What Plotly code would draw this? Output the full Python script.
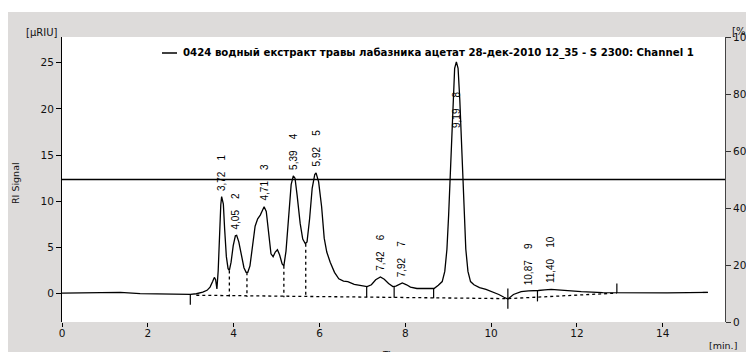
import plotly.graph_objects as go

# ---------------- data ----------------
time_min = [0.0, 0.5, 1.0, 1.36, 1.82, 2.42, 2.99, 3.13, 3.28, 3.38, 3.45, 3.51, 3.55, 3.58, 3.61,
            3.64, 3.67, 3.70, 3.72, 3.76, 3.79, 3.83, 3.87, 3.90, 3.94, 3.99, 4.04, 4.07, 4.12,
            4.18, 4.24, 4.29, 4.33, 4.38, 4.44, 4.50, 4.56, 4.62, 4.67, 4.71, 4.76, 4.82, 4.87,
            4.92, 4.97, 5.02, 5.07, 5.13, 5.17, 5.22, 5.28, 5.34, 5.39, 5.43, 5.48, 5.55, 5.61,
            5.67, 5.71, 5.77, 5.83, 5.89, 5.92, 5.98, 6.05, 6.11, 6.17, 6.25, 6.35, 6.45, 6.56,
            6.66, 6.81, 6.96, 7.11, 7.21, 7.31, 7.42, 7.51, 7.61, 7.71, 7.78, 7.87, 7.93, 8.03,
            8.12, 8.27, 8.47, 8.67, 8.77, 8.86, 8.92, 8.97, 9.01, 9.04, 9.07, 9.11, 9.15, 9.19,
            9.23, 9.27, 9.31, 9.34, 9.37, 9.41, 9.46, 9.52, 9.60, 9.73, 9.88, 10.04, 10.18, 10.30,
            10.39, 10.52, 10.70, 10.87, 11.0, 11.10, 11.25, 11.40, 11.55, 11.85, 12.1, 12.6,
            13.1, 13.6, 14.1, 14.6, 15.05]
signal_uriu = [0.05, 0.05, 0.08, 0.12, 0.0, -0.05, -0.08, -0.02, 0.15, 0.35, 0.7, 1.3, 1.75, 1.5, 0.5,
               2.5, 6.5, 9.6, 10.5, 9.7, 7.0, 4.0, 2.7, 2.5, 3.4, 5.2, 6.25, 6.3, 5.6,
               4.0, 2.8, 2.3, 2.3, 3.0, 5.2, 7.3, 8.1, 8.5, 9.0, 9.4, 8.9, 6.6, 4.3,
               4.0, 4.5, 4.75, 4.2, 3.2, 3.0, 4.6, 8.6, 11.8, 12.75, 12.5, 10.6, 7.6, 5.9,
               5.4, 5.6, 8.1, 11.4, 12.9, 13.07, 12.1, 9.4, 6.0, 4.5, 3.4, 2.3, 1.6, 1.35,
               1.3, 1.0, 0.85, 0.75, 0.95, 1.5, 1.8, 1.55, 1.1, 0.75, 0.8, 1.05, 1.15, 0.95,
               0.7, 0.55, 0.55, 0.55, 0.9, 1.3, 2.4, 4.8, 8.5, 12.2, 16.0, 21.0, 24.4, 25.1,
               24.4, 21.0, 16.0, 12.2, 8.5, 4.8, 2.4, 1.3, 0.95, 0.65, 0.45, 0.2, -0.1, -0.4,
               -0.6, -0.1, 0.2, 0.3, 0.3, 0.33, 0.4, 0.45, 0.4, 0.28, 0.2, 0.1,
               0.08, 0.05, 0.08, 0.1, 0.12]

# integration baseline (dotted)
baseline_t = [3.13, 10.39, 10.39, 12.93]
baseline_y = [-0.18, -0.55, -0.55, 0.05]

# valley drop lines (dotted): time, top, bottom
drop_t = [3.90, 4.31, 5.17, 5.68]
drop_top = [2.5, 2.3, 3.0, 5.4]
drop_bot = [-0.33, -0.36, -0.41, -0.44]

# integration limit markers (solid): time, top, bottom
mark_t = [2.99, 7.10, 7.74, 8.66, 10.39, 11.08, 12.93, 15.05]
mark_top = [-0.1, 0.75, 0.8, 0.6, 0.55, 0.35, 1.1, 0.12]
mark_bot = [-1.2, -0.4, -0.45, -0.5, -1.65, -0.85, 0.05, 0.12]

# peaks
peak_no = ["1", "2", "3", "4", "5", "6", "7", "8", "9", "10"]
peak_rt = [3.72, 4.05, 4.71, 5.39, 5.92, 7.42, 7.92, 9.19, 10.87, 11.40]
peak_h = [10.47, 6.32, 9.39, 12.72, 13.07, 1.8, 1.15, 25.1, 0.3, 0.45]
peak_rt_text = ["3,72", "4,05", "4,71", "5,39", "5,92", "7,42", "7,92", "9,19", "10,87", "11,40"]

threshold_pct = 50
legend_text = "0424 водный екстракт травы лабазника ацетат 28-дек-2010 12_35 - S 2300: Channel 1"

x_ticks = [0, 2, 4, 6, 8, 10, 12, 14]
y_ticks = [0, 5, 10, 15, 20, 25]
y2_ticks = [0, 20, 40, 60, 80, 100]

# ---------------- figure ----------------
# page body has an 8px margin, so screen = figure + 8
OFF = 8
W, H = 754, 352
L, R, T = 62 - OFF, W - (725 - OFF), 37 - OFF
B = H - (322 - OFF)
PW, PH = W - L - R, H - T - B


def px(sx):
    return (sx - OFF - L) / PW


def py(sy):
    return (H - B - (sy - OFF)) / PH


fig = go.Figure()

fig.add_trace(go.Scatter(x=time_min, y=signal_uriu, mode="lines",
                         line=dict(color="black", width=1.3), hoverinfo="skip", showlegend=False))

fig.add_trace(go.Scatter(x=baseline_t, y=baseline_y, mode="lines",
                         line=dict(color="black", width=1.3, dash="dot"), showlegend=False))

dx, dy = [], []
for t, a, b in zip(drop_t, drop_top, drop_bot):
    dx += [t, t, None]
    dy += [a, b, None]
fig.add_trace(go.Scatter(x=dx, y=dy, mode="lines",
                         line=dict(color="black", width=1.3, dash="dot"), showlegend=False))

mx, my = [], []
for t, a, b in zip(mark_t, mark_top, mark_bot):
    if a == b:
        mx += [t - 0.12, t, None]
        my += [a, b, None]
    else:
        mx += [t, t, None]
        my += [a, b, None]
fig.add_trace(go.Scatter(x=mx, y=my, mode="lines",
                         line=dict(color="black", width=1.2), showlegend=False))

# threshold line on right axis
fig.add_trace(go.Scatter(x=[0, 15.45], y=[threshold_pct, threshold_pct], yaxis="y2", mode="lines",
                         line=dict(color="black", width=1.3), showlegend=False))

LABEL_CAP = 17.7
nb = "\u00a0"
for n, rt, h, txt in zip(peak_no, peak_rt, peak_h, peak_rt_text):
    y = h if h < LABEL_CAP else LABEL_CAP
    fig.add_annotation(x=rt, y=y, xref="x", yref="y", text=txt + nb * 4 + n,
                       textangle=-90, showarrow=False, xanchor="center", yanchor="bottom",
                       yshift=0 if h >= LABEL_CAP else 4,
                       font=dict(family="Liberation Sans, Arial", size=10, color="black"))

tickfont = dict(family="DejaVu Sans", size=10.5, color="#111")

fig.update_layout(
    width=W, height=H,
    margin=dict(l=L, r=R, t=T, b=B, pad=0, autoexpand=False),
    paper_bgcolor="#dddbda",
    plot_bgcolor="white",
    showlegend=False,
    xaxis=dict(range=[0, 15.45], tickvals=x_ticks, ticks="outside", ticklen=4, tickcolor="black",
               ticklabelstandoff=-3,
               showline=False, showgrid=False, zeroline=False, tickfont=tickfont, automargin=False),
    yaxis=dict(range=[-3.08, 27.79], tickvals=y_ticks, ticks="outside", ticklen=5, tickcolor="black",
               showline=True, linecolor="black", linewidth=1, showgrid=False, zeroline=False,
               tickfont=tickfont, automargin=False),
    yaxis2=dict(range=[0, 100], tickvals=y2_ticks, overlaying="y", side="right", ticks="outside",
                ticklen=5, tickcolor="#333", showline=True, linecolor="#444", linewidth=1,
                showgrid=False, zeroline=False, tickfont=tickfont, automargin=False),
)

# thin white band at the very top of the grey panel
fig.add_shape(type="rect", xref="paper", yref="paper", x0=px(0), x1=px(W + 20), y0=py(12), y1=py(0),
              fillcolor="white", line=dict(width=0), layer="below")

# legend
fig.add_shape(type="line", xref="paper", yref="paper", x0=px(162), x1=px(177), y0=py(53), y1=py(53),
              line=dict(color="black", width=1.5))
fig.add_annotation(xref="paper", yref="paper", x=px(181), y=py(53), text="<b>" + legend_text + "</b>",
                   showarrow=False, xanchor="left", yanchor="middle",
                   font=dict(family="DejaVu Sans", size=10.2, color="black"))

labfont = dict(family="DejaVu Sans", size=10, color="#111")
fig.add_annotation(xref="paper", yref="paper", x=px(41), y=py(33), text="[µRIU]", showarrow=False,
                   xanchor="center", yanchor="middle", font=labfont)
fig.add_annotation(xref="paper", yref="paper", x=px(740), y=py(32), text="[%]", showarrow=False,
                   xanchor="center", yanchor="middle", font=labfont)
fig.add_annotation(xref="paper", yref="paper", x=px(723), y=py(345), text="[min.]", showarrow=False,
                   xanchor="center", yanchor="middle", font=dict(family="DejaVu Sans", size=9.5, color="#111"))
fig.add_annotation(xref="paper", yref="paper", x=px(393), y=py(355), text="Time", showarrow=False,
                   xanchor="center", yanchor="middle", font=dict(family="DejaVu Sans", size=9, color="#111"))
fig.add_annotation(xref="paper", yref="paper", x=px(15), y=py(183), text="RI Signal", showarrow=False,
                   textangle=-90, xanchor="center", yanchor="middle",
                   font=dict(family="DejaVu Sans", size=9.5, color="#111"))
fig.add_annotation(xref="paper", yref="paper", x=px(756), y=py(180), text="Percentage", showarrow=False,
                   textangle=90, xanchor="center", yanchor="middle",
                   font=dict(family="DejaVu Sans", size=9, color="#111"))

fig.write_html("out.html")
